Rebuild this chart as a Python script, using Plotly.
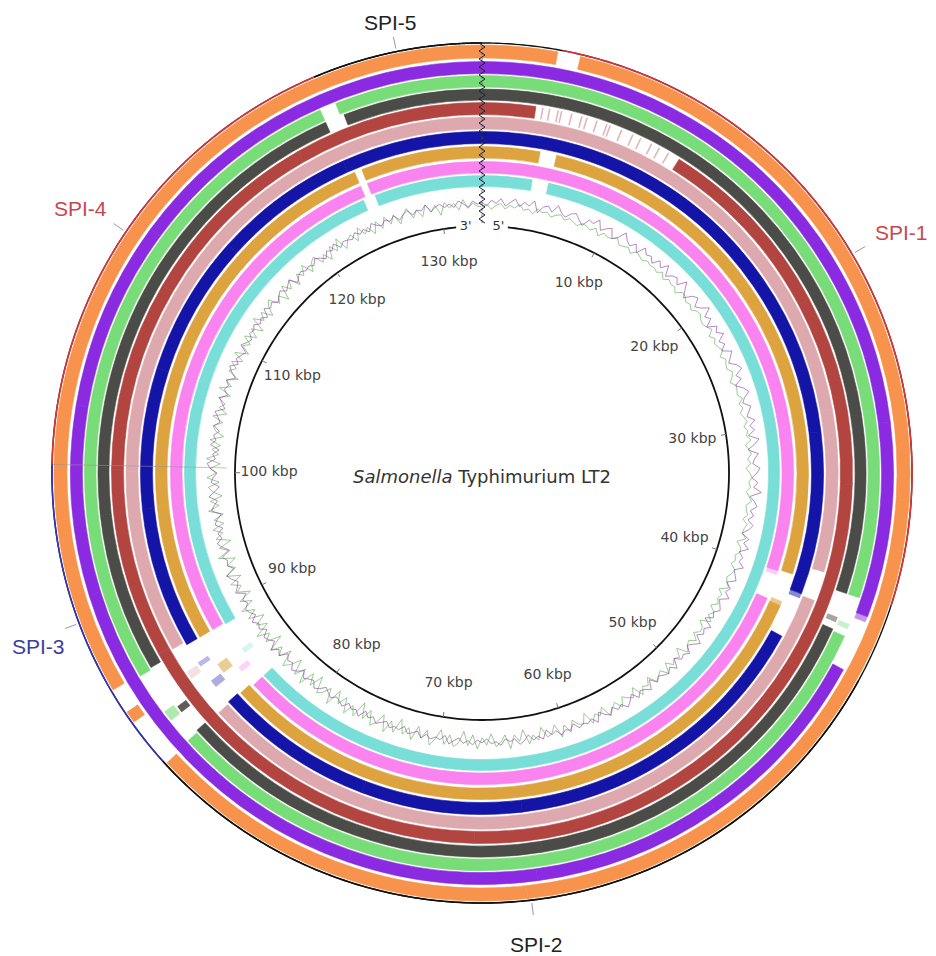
import numpy as np
import plotly.graph_objects as go

# ---------------- data ----------------
GENOME_KBP = 133.3
tick_kbp = [10, 20, 30, 40, 50, 60, 70, 80, 90, 100, 110, 120, 130]
tick_labels = [f"{t} kbp" for t in tick_kbp]

spi_names = ["SPI-1", "SPI-2", "SPI-3", "SPI-4", "SPI-5"]
spi_start = [4.0, 44.0, 84.4, 100.4, 124.8]
spi_end = [40.0, 84.4, 100.4, 124.8, 133.3]
spi_line_colors = ["#D8353A", "#111111", "#3434B8", "#D8353A", "#111111"]
spi_text_colors = ["#C8464F", "#222222", "#3C3CA0", "#C8464F", "#222222"]

# gaps (kbp) of each BLAST ring, outermost first
orange_gaps = [(3.78, 4.93), (84.2, 86.8), (87.4, 88.7)]
purple_gaps = [(40.9, 43.9)]
green_gaps = [(40.1, 42.3), (84.3, 88.6), (124.4, 125.3)]
dkgray_gaps = [(40.1, 42.2), (84.4, 88.7), (124.4, 125.5)]
brown_gaps = [(3.1, 11.9)]
mauve_gaps = [(39.3, 41.1), (84.3, 89.0)]
blue_gaps = [(41.0, 43.9), (84.4, 88.8)]
gold_gaps = [(3.8, 4.9), (40.0, 42.2), (84.3, 88.8), (124.8, 125.3)]
pink_gaps = [(40.1, 42.1), (84.1, 88.8), (124.8, 125.3)]
cyan_gaps = [(3.6, 4.8), (84.1, 88.7), (124.6, 125.5)]

# faint partial hits inside gaps: ring index, start, end, opacity
frag_ring = [9, 8, 7, 6, 6, 5, 3, 2, 6, 1, 3, 2, 8, 7]
frag_start = [86.2, 85.3, 86.0, 85.6, 87.2, 86.9, 85.7, 85.7, 41.0, 40.9, 41.5, 41.6, 40.1, 41.9]
frag_end = [86.6, 85.7, 86.7, 86.1, 87.5, 87.4, 86.1, 86.3, 41.3, 41.2, 41.8, 41.9, 40.4, 42.2]
frag_alpha = [0.3, 0.35, 0.55, 0.35, 0.3, 0.35, 0.9, 0.6, 0.5, 0.5, 0.5, 0.4, 0.4, 0.6]

# striped partial hits in the brown ring
brown_stripes = [3.5, 3.9, 4.4, 4.6, 5.2, 5.8, 6.1, 6.7, 7.3, 7.5, 8.2, 8.9, 9.4, 10.1, 10.6, 11.2]

# GC track offsets, one value per degree
purple_track = [
    3, -1, 5, 2, 7, 0, 4, 8, 1, 6, 3, 9, -2, 5, 7, 2, 10, 4, 1, 6,
    8, 3, -1, 7, 5, 11, 2, 6, 9, 0, 4, 12, 6, 3, 8, 1, 10, 5, 7, 2,
    9, 4, 11, 1, 6, 8, 3, 12, 5, -1, 7, 10, 2, 6, 13, 4, 8, 0, 9, 5,
    11, 3, 7, 1, 10, 6, 2, 9, 12, 4, 8, 0, 7, 11, 5, 2, 9, 6, 3, 10,
    4, 8, 1, 11, 6, -1, 9, 5, 3, 10, 7, 2, 8, 4, 12, 1, 6, 9, 3, 7,
    2, 8, 5, -1, 7, 3, 9, 1, 6, 4, 10, 2, 5, 8, 0, 6, 3, 9, 1, 4,
    7, 2, 5, -2, 8, 3, 6, 1, 9, 4, 0, 7, 3, 5, -1, 8, 2, 6, 4, 1,
    5, -2, 7, 3, 1, 6, -1, 4, 8, 2, 5, 0, 6, 3, -2, 7, 1, 4, 2, 5,
    -1, 4, 2, 6, 0, 3, -3, 5, 1, 4, -2, 3, 6, 0, 2, -1, 5, 1, 3, -2,
    2, -1, 4, 0, 3, -2, 1, 5, -3, 2, 0, 3, -1, 4, -2, 1, 3, -3, 2, 0,
    3, -2, 1, 4, -1, 2, -3, 5, 0, 2, -2, 4, 1, -1, 3, 0, -3, 2, 5, -1,
    1, 4, -2, 3, 6, 0, 2, -3, 5, 1, 7, -1, 3, 5, -2, 4, 1, 6, -1, 3,
    5, 0, 3, -3, 6, 2, -1, 4, 7, -2, 3, 1, 5, -4, 2, 6, 0, 3, -3, 4,
    1, -4, 5, 2, -2, 6, 0, -5, 3, 1, -3, 4, 7, -1, 2, -4, 5, 0, 3, -2,
    4, -1, 2, 6, -3, 1, 5, -2, 3, 0, 4, -4, 2, 6, -1, 3, 0, -3, 5, 1,
    -2, 3, 1, 4, -1, 2, -3, 5, 0, 3, -2, 1, 4, -1, 2, 5, -3, 1, 3, 0,
    2, -1, 4, 1, -3, 3, 0, 5, -2, 2, 1, -1, 4, 0, 3, -2, 5, 1, -1, 3,
    0, 4, -2, 2, 5, -1, 3, 1, 6, -2, 2, 4, 0, 3, -1, 5, 2, -2, 4, 1]
green_track = [
    -2, 1, -4, 0, 2, -3, 1, -1, 3, -2, 0, -4, 2, -1, 1, -3, 0, 2, -2, 1,
    -1, -3, 1, 0, -2, 2, -4, 1, -1, 0, 3, -2, -1, 1, -3, 2, 0, -2, 1, -1,
    0, -2, 2, -3, 1, -1, 0, -4, 2, 1, -2, 0, -3, 1, 2, -1, -2, 0, 3, -3,
    1, -2, 0, 2, -3, 1, -1, -2, 2, 0, -4, 1, 0, -1, 3, -2, 1, -3, 0, 2,
    -2, 1, -1, 3, -3, 0, 2, -2, 1, -4, 0, 2, -1, 1, -3, 0, 3, -2, -1, 1,
    -3, 2, 0, -1, 4, -4, 1, 2, -2, 0, -3, 3, 1, -2, 0, 4, -4, 1, -1, 2,
    -4, 3, -1, 5, -5, 1, 2, -3, 4, -2, 0, 5, -6, 2, -1, 3, -4, 6, -2, 1,
    4, -5, 2, -1, 6, -6, 3, 0, -4, 5, -3, 1, 7, -5, 2, -2, 6, -7, 3, 1,
    -5, 6, -3, 8, -6, 2, 4, -7, 5, -1, 7, -8, 3, -4, 9, -5, 2, 6, -7, 4,
    -3, 8, -6, 5, -9, 3, 7, -4, 6, -8, 2, 9, -5, 4, -7, 8, -3, 5, -9, 6,
    -4, 9, -7, 3, 8, -6, 5, -10, 7, -2, 9, -6, 4, -8, 10, -5, 3, 7, -9, 5,
    -6, 10, -4, 7, -8, 3, 9, -7, 5, -3, 8, -9, 6, -2, 10, -6, 4, -8, 7, -3,
    9, -5, 6, -8, 4, -2, 7, -6, 8, -4, 3, -7, 9, -3, 5, -8, 6, -2, 7, -5,
    4, -6, 8, -3, 5, -7, 2, 6, -5, 7, -2, 4, -6, 8, -4, 3, -5, 6, -7, 2,
    5, -4, 7, -6, 3, -2, 6, -5, 8, -3, 4, -7, 5, -1, 6, -4, 7, -6, 3, -3,
    6, -5, 4, -7, 8, -2, 5, -6, 3, 7, -4, 2, -8, 6, -3, 5, -6, 4, -2, 7,
    -5, 3, 6, -4, 2, -7, 5, -3, 8, -6, 1, 4, -5, 7, -2, 3, -6, 5, -4, 6,
    -3, 5, -6, 2, 7, -4, 3, -5, 6, -2, 4, -7, 5, -1, 3, -4, 6, -3, 2, -1]

# ---------------- styling / geometry ----------------
ring_gaps = [orange_gaps, purple_gaps, green_gaps, dkgray_gaps, brown_gaps,
             mauve_gaps, blue_gaps, gold_gaps, pink_gaps, cyan_gaps]
ring_colors = ["#F7934C", "#8A2BE2", "#78DC78", "#4B4B48", "#B24540",
               "#DDA9AF", "#1414A6", "#DDA33F", "#F983EF", "#79DDD8"]
ring_outer = [428, 411.5, 397.5, 384, 370.5, 356, 341.5, 326.5, 311.5, 297.5]
ring_inner = [415, 399.5, 386, 373, 358.5, 344, 329.5, 315, 300, 286.5]
R_OUTER = 430
R_BACK = 247
R_TRACK = 268
spi_label_radius = [487, 474, 473, 485, 462]

W, H = 936, 956
CX, CY = 482, 473
RMAX = 452


def k2d(k):
    return np.asarray(k, dtype=float) / GENOME_KBP * 360.0


def present(gaps):
    segs, pos = [], 0.0
    for a, b in sorted(gaps):
        if a > pos:
            segs.append((pos, a))
        pos = max(pos, b)
    if pos < GENOME_KBP:
        segs.append((pos, GENOME_KBP))
    return segs


def hex_rgba(h, a):
    h = h.lstrip("#")
    return f"rgba({int(h[0:2],16)},{int(h[2:4],16)},{int(h[4:6],16)},{a})"


fig = go.Figure()

# BLAST rings
for i, gaps in enumerate(ring_gaps):
    th, wd = [], []
    for a, b in present(gaps):
        d0, d1 = float(k2d(a)), float(k2d(b))
        n = int(np.ceil((d1 - d0) / 30.0))
        edges = np.linspace(d0, d1, n + 1)
        for e0, e1 in zip(edges[:-1], edges[1:]):
            th.append((e0 + e1) / 2)
            wd.append(e1 - e0)
    fig.add_trace(go.Barpolar(
        theta=th, width=wd, r=[ring_outer[i] - ring_inner[i]] * len(th),
        base=[ring_inner[i]] * len(th),
        marker=dict(color=ring_colors[i], line=dict(color=ring_colors[i], width=0.6)),
        hoverinfo="skip", showlegend=False))

# faint fragments
for ri, a, b, al in zip(frag_ring, frag_start, frag_end, frag_alpha):
    col = hex_rgba(ring_colors[ri], al)
    fig.add_trace(go.Barpolar(
        theta=[float(k2d((a + b) / 2))], width=[float(k2d(b - a))],
        r=[ring_outer[ri] - ring_inner[ri]], base=[ring_inner[ri]],
        marker=dict(color=col, line=dict(width=0)), hoverinfo="skip", showlegend=False))

# brown stripes
fig.add_trace(go.Barpolar(
    theta=list(k2d(brown_stripes)), width=[float(k2d(0.09))] * len(brown_stripes),
    r=[ring_outer[4] - ring_inner[4]] * len(brown_stripes), base=[ring_inner[4]] * len(brown_stripes),
    marker=dict(color=hex_rgba(ring_colors[4], 0.4), line=dict(width=0)),
    hoverinfo="skip", showlegend=False))

# GC tracks
track_theta = list(np.arange(len(purple_track)) * 360.0 / len(purple_track)) + [360.0]
fig.add_trace(go.Scatterpolar(
    theta=track_theta, r=[R_TRACK + v for v in green_track] + [R_TRACK + green_track[0]],
    mode="lines", line=dict(color="rgba(95,175,85,0.8)", width=0.8),
    hoverinfo="skip", showlegend=False))
fig.add_trace(go.Scatterpolar(
    theta=track_theta, r=[R_TRACK + v for v in purple_track] + [R_TRACK + purple_track[0]],
    mode="lines", line=dict(color="rgba(140,70,160,0.8)", width=0.8),
    hoverinfo="skip", showlegend=False))

# SPI boundary line (left)
bd = float(k2d(spi_start[3]))
fig.add_trace(go.Scatterpolar(theta=[bd, bd], r=[255, R_OUTER], mode="lines",
                              line=dict(color="rgba(150,150,150,0.55)", width=1),
                              hoverinfo="skip", showlegend=False))

# backbone
bb = np.linspace(6, 354, 400)
fig.add_trace(go.Scatterpolar(theta=bb, r=[R_BACK] * len(bb), mode="lines",
                              line=dict(color="#111111", width=1.8),
                              hoverinfo="skip", showlegend=False))

# ticks
tt, tr = [], []
for t in tick_kbp:
    d = float(k2d(t))
    tt += [d, d, None]
    tr += [R_BACK - 5, R_BACK, None]
fig.add_trace(go.Scatterpolar(theta=tt, r=tr, mode="lines",
                              line=dict(color="#777777", width=1),
                              hoverinfo="skip", showlegend=False))

# outer circle and SPI arcs
oc = np.linspace(0, 360, 721)
fig.add_trace(go.Scatterpolar(theta=oc, r=[R_OUTER] * len(oc), mode="lines",
                              line=dict(color="#111111", width=1.4),
                              hoverinfo="skip", showlegend=False))
for s, e, c in zip(spi_start, spi_end, spi_line_colors):
    th = np.linspace(float(k2d(s)), float(k2d(e)), 200)
    fig.add_trace(go.Scatterpolar(theta=th, r=[R_OUTER] * len(th), mode="lines",
                                  line=dict(color=c, width=1.6),
                                  hoverinfo="skip", showlegend=False))

# zigzag junction marker at origin
zr = np.arange(250, 433, 4.0)
zt = [(3.0 / r) * 180 / np.pi * (1 if j % 2 == 0 else -1) for j, r in enumerate(zr)]
fig.add_trace(go.Scatterpolar(theta=[0] * len(zr), r=zr, mode="lines",
                              line=dict(color="rgba(70,90,160,0.8)", width=1, dash="dot"),
                              hoverinfo="skip", showlegend=False))
fig.add_trace(go.Scatterpolar(theta=zt, r=zr, mode="lines",
                              line=dict(color="#222222", width=1),
                              hoverinfo="skip", showlegend=False))

# 3' / 5'
fig.add_trace(go.Scatterpolar(theta=[356.2, 3.8], r=[R_BACK, R_BACK], mode="text",
                              text=["3'", "5'"],
                              textfont=dict(family="DejaVu Sans", size=13, color="#333333"),
                              hoverinfo="skip", showlegend=False))

# tick labels
fig.add_trace(go.Scatterpolar(theta=list(k2d(tick_kbp)), r=[213] * len(tick_kbp), mode="text",
                              text=tick_labels,
                              textfont=dict(family="DejaVu Sans", size=14, color="#444444"),
                              hoverinfo="skip", showlegend=False))

# SPI leaders
spi_mid = [(s + e) / 2 for s, e in zip(spi_start, spi_end)]
lt, lr = [], []
for m in spi_mid:
    d = float(k2d(m))
    lt += [d, d, None]
    lr += [433, 445, None]
fig.add_trace(go.Scatterpolar(theta=lt, r=lr, mode="lines",
                              line=dict(color="#9a9a9a", width=1),
                              hoverinfo="skip", showlegend=False))

# SPI labels as annotations placed just outside the leaders
annotations = []
for name, m, col, rr in zip(spi_names, spi_mid, spi_text_colors, spi_label_radius):
    a = np.radians(float(k2d(m)))
    px = CX + rr * np.sin(a)
    py = CY - rr * np.cos(a)
    annotations.append(dict(x=px / W, y=1 - py / H, xref="paper", yref="paper",
                            text=name, showarrow=False, xanchor="center", yanchor="middle",
                            yshift=-9 * abs(np.sin(a)),
                            font=dict(family="Liberation Sans, Arial", size=21, color=col)))
annotations.append(dict(
    x=CX / W, y=1 - (CY + 3) / H, xref="paper", yref="paper",
    text="<i>Salmonella</i> Typhimurium LT2", showarrow=False,
    xanchor="center", yanchor="middle",
    font=dict(family="DejaVu Sans", size=18, color="#333333")))

fig.update_layout(
    width=W, height=H, margin=dict(l=0, r=0, t=0, b=0),
    paper_bgcolor="white", plot_bgcolor="white", showlegend=False,
    hovermode=False,
    polar=dict(
        domain=dict(x=[(CX - RMAX) / W, (CX + RMAX) / W],
                    y=[(H - CY - RMAX) / H, (H - CY + RMAX) / H]),
        bgcolor="white", hole=0, barmode="overlay", bargap=0,
        radialaxis=dict(range=[0, RMAX], visible=False, showgrid=False),
        angularaxis=dict(rotation=90, direction="clockwise", visible=False, showgrid=False),
    ),
    annotations=annotations,
)

fig.write_html("out.html", config={"displayModeBar": False, "staticPlot": True},
               post_script="document.body.style.margin='0';document.body.style.overflow='hidden';")
